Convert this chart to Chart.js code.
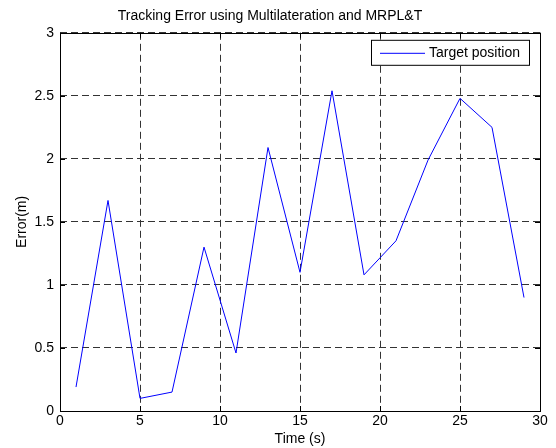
<!DOCTYPE html>
<html>
<head>
<meta charset="utf-8">
<script src="https://cdn.jsdelivr.net/npm/chart.js@4/dist/chart.umd.min.js"></script>
<style>
  html, body { margin: 0; padding: 0; background: #fff; }
  #wrap { width: 556px; height: 448px; }
</style>
</head>
<body>
<div id="wrap"><canvas id="errChart" width="556" height="448"></canvas></div>
<script>
// time samples (s) and tracking error (m)
const timeSec = [1, 3, 5, 7, 9, 11, 13, 15, 17, 19, 21, 23, 25, 27, 29];
const errorM = [0.19, 1.67, 0.10, 0.15, 1.30, 0.46, 2.09, 1.10, 2.54, 1.08, 1.35, 1.99, 2.48, 2.25, 0.90];
const xTicks = [0, 5, 10, 15, 20, 25, 30];
const yTicks = [0, 0.5, 1, 1.5, 2, 2.5, 3];

const FONT = 'Liberation Sans, Arial, Helvetica, sans-serif';
const GRID = '#333';

// box round the axes, inward ticks and a boxed legend, like matlab
const matlabAxes = {
    id: 'matlabAxes',
    afterDatasetsDraw(chart) {
        const { ctx, chartArea: a, scales } = chart;
        ctx.save();
        ctx.strokeStyle = '#000';
        ctx.lineWidth = 1;
        ctx.setLineDash([]);
        ctx.beginPath();
        xTicks.forEach(v => {
            const x = Math.round(scales.x.getPixelForValue(v)) + 0.5;
            ctx.moveTo(x, a.bottom); ctx.lineTo(x, a.bottom - 5);
            ctx.moveTo(x, a.top); ctx.lineTo(x, a.top + 5);
        });
        yTicks.forEach(v => {
            const y = Math.round(scales.y.getPixelForValue(v)) + 0.5;
            ctx.moveTo(a.left, y); ctx.lineTo(a.left + 5, y);
            ctx.moveTo(a.right, y); ctx.lineTo(a.right - 5, y);
        });
        ctx.stroke();
        ctx.strokeRect(Math.round(a.left) + 0.5, Math.round(a.top) + 0.5,
            Math.round(a.right - a.left), Math.round(a.bottom - a.top));

        // legend
        const ds = chart.data.datasets[0];
        const lx = a.right - 169, ly = a.top + 7, lw = 158, lh = 25;
        ctx.fillStyle = '#fff';
        ctx.fillRect(lx, ly, lw, lh);
        ctx.strokeRect(lx + 0.5, ly + 0.5, lw, lh);
        ctx.strokeStyle = ds.borderColor;
        ctx.beginPath();
        ctx.moveTo(lx + 9, ly + 13.5); ctx.lineTo(lx + 54, ly + 13.5);
        ctx.stroke();
        ctx.fillStyle = '#000';
        ctx.font = '14px ' + FONT;
        ctx.textBaseline = 'middle';
        ctx.fillText(ds.label, lx + 58, ly + 13.5);
        ctx.restore();
    }
};

const ctx = document.getElementById('errChart').getContext('2d');
document.getElementById('errChart').chart = new Chart(ctx, {
    type: 'line',
    data: {
        datasets: [{
            label: 'Target position',
            data: timeSec.map((t, i) => ({ x: t, y: errorM[i] })),
            borderColor: '#0000ff',
            borderWidth: 1,
            pointRadius: 0,
            tension: 0,
            fill: false
        }]
    },
    options: {
        responsive: false,
        animation: false,
        devicePixelRatio: 1,
        layout: { padding: { left: 0, right: 16, top: 0, bottom: 0 } },
        plugins: {
            legend: { display: false },
            tooltip: { enabled: false },
            title: {
                display: true,
                text: 'Tracking Error using Multilateration and MRPL&T',
                color: '#000',
                font: { family: FONT, size: 14, weight: 'normal' },
                padding: { top: 8, bottom: 8 }
            }
        },
        scales: {
            x: {
                type: 'linear',
                min: 0,
                max: 30,
                afterBuildTicks: s => { s.ticks = xTicks.map(v => ({ value: v })); },
                afterFit: s => { s.height = 37; },
                ticks: { color: '#000', font: { family: FONT, size: 14 }, padding: 2, maxRotation: 0 },
                grid: { color: GRID, lineWidth: 1, drawTicks: false },
                border: { display: false, dash: [7, 4] },
                title: {
                    display: true,
                    text: 'Time (s)',
                    color: '#000',
                    font: { family: FONT, size: 14 },
                    padding: { top: 0, bottom: 0 }
                }
            },
            y: {
                type: 'linear',
                min: 0,
                max: 3,
                afterBuildTicks: s => { s.ticks = yTicks.map(v => ({ value: v })); },
                afterFit: s => { s.width = 60; },
                ticks: {
                    color: '#000',
                    font: { family: FONT, size: 14 },
                    padding: 6,
                    callback: v => String(v)
                },
                grid: { color: GRID, lineWidth: 1, drawTicks: false },
                border: { display: false, dash: [7, 4] },
                title: {
                    display: true,
                    text: 'Error(m)',
                    color: '#000',
                    font: { family: FONT, size: 14 },
                    padding: { top: 14, bottom: 0 }
                }
            }
        }
    },
    plugins: [matlabAxes]
});
</script>
</body>
</html>
